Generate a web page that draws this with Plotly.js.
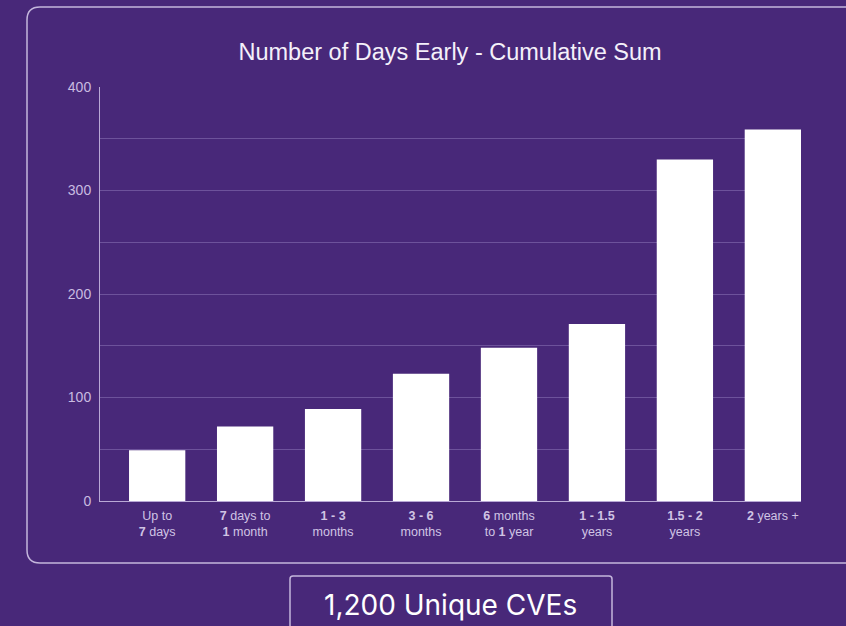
<!DOCTYPE html>
<html>
<head>
<meta charset="utf-8">
<script src="https://cdn.plot.ly/plotly-3.0.1.min.js"></script>
<style>html,body{margin:0;padding:0;background:#482879;}#chart{width:846px;height:626px;}</style>
</head>
<body>
<div id="chart"></div>
<script>
const categories = ["Up to<br><b>7</b> days", "<b>7</b> days to<br><b>1</b> month", "<b>1 - 3</b><br>months", "<b>3 - 6</b><br>months", "<b>6</b> months<br>to <b>1</b> year", "<b>1 - 1.5</b><br>years", "<b>1.5 - 2</b><br>years", "<b>2</b> years +"];
const values = [49, 72, 89, 123, 148, 171, 330, 359];
const titleText = "Number of Days Early - Cumulative Sum";
const footerText = "1,200 Unique CVEs";

const W = 846, H = 626, L = 100, R = 45, T = 87, B = 125;
const pw = W - L - R, ph = H - T - B;
const px = v => (v - L) / pw;
const py = v => (H - B - v) / ph;

function roundedRect(x0, y0, x1, y1, r) {
  const rx = r / pw, ry = r / ph;
  const a = px(x0), b = px(x1), c = py(y0), d = py(y1);
  return `M ${a + rx} ${c} L ${b - rx} ${c} Q ${b} ${c} ${b} ${c - ry} L ${b} ${d + ry} Q ${b} ${d} ${b - rx} ${d} L ${a + rx} ${d} Q ${a} ${d} ${a} ${d + ry} L ${a} ${c - ry} Q ${a} ${c} ${a + rx} ${c} Z`;
}

const trace = {
  type: "bar",
  x: categories,
  y: values,
  marker: {color: "#ffffff", line: {width: 0}},
  hoverinfo: "x+y"
};

const layout = {
  width: W, height: H,
  paper_bgcolor: "#482879",
  plot_bgcolor: "#482879",
  margin: {l: L, r: R, t: T, b: B},
  bargap: 0.36,
  showlegend: false,
  title: {
    text: titleText,
    x: 0.532, xanchor: "center",
    y: 1 - 52 / H, yanchor: "middle",
    font: {family: "'Liberation Sans', Arial, sans-serif", size: 23.5, color: "#f4f0fa"}
  },
  xaxis: {
    type: "category",
    range: [-0.65, 7.32],
    showgrid: false,
    showline: true,
    linecolor: "#b9a9d6",
    linewidth: 1,
    ticks: "",
    ticklabelstandoff: 3,
    tickfont: {family: "'Liberation Sans', Arial, sans-serif", size: 12.5, color: "#d0c4e4"},
    fixedrange: true
  },
  yaxis: {
    range: [0, 400],
    dtick: 100,
    showgrid: true,
    gridcolor: "#6d529b",
    gridwidth: 1,
    minor: {dtick: 50, showgrid: true, gridcolor: "#6d529b", gridwidth: 1},
    zeroline: false,
    showline: true,
    linecolor: "#b9a9d6",
    linewidth: 1,
    ticks: "",
    ticklabelstandoff: 5,
    tickfont: {family: "'Liberation Sans', Arial, sans-serif", size: 14, color: "#c9bce0"},
    fixedrange: true
  },
  shapes: [
    {type: "path", xref: "paper", yref: "paper", path: roundedRect(27, 7, 870, 563, 13),
     line: {color: "#c4b6dc", width: 1.5}, fillcolor: "rgba(0,0,0,0)", layer: "below"},
    {type: "path", xref: "paper", yref: "paper", path: roundedRect(290, 576, 612, 660, 3),
     line: {color: "#c4b6dc", width: 1.5}, fillcolor: "rgba(0,0,0,0)", layer: "below"}
  ],
  annotations: [
    {text: footerText, xref: "paper", yref: "paper", x: px(451), y: py(605),
     xanchor: "center", yanchor: "middle", showarrow: false,
     font: {family: "Inter, 'Liberation Sans', sans-serif", size: 28, color: "#ffffff"}}
  ]
};

Plotly.newPlot("chart", [trace], layout, {displayModeBar: false, staticPlot: true});
</script>
</body>
</html>
